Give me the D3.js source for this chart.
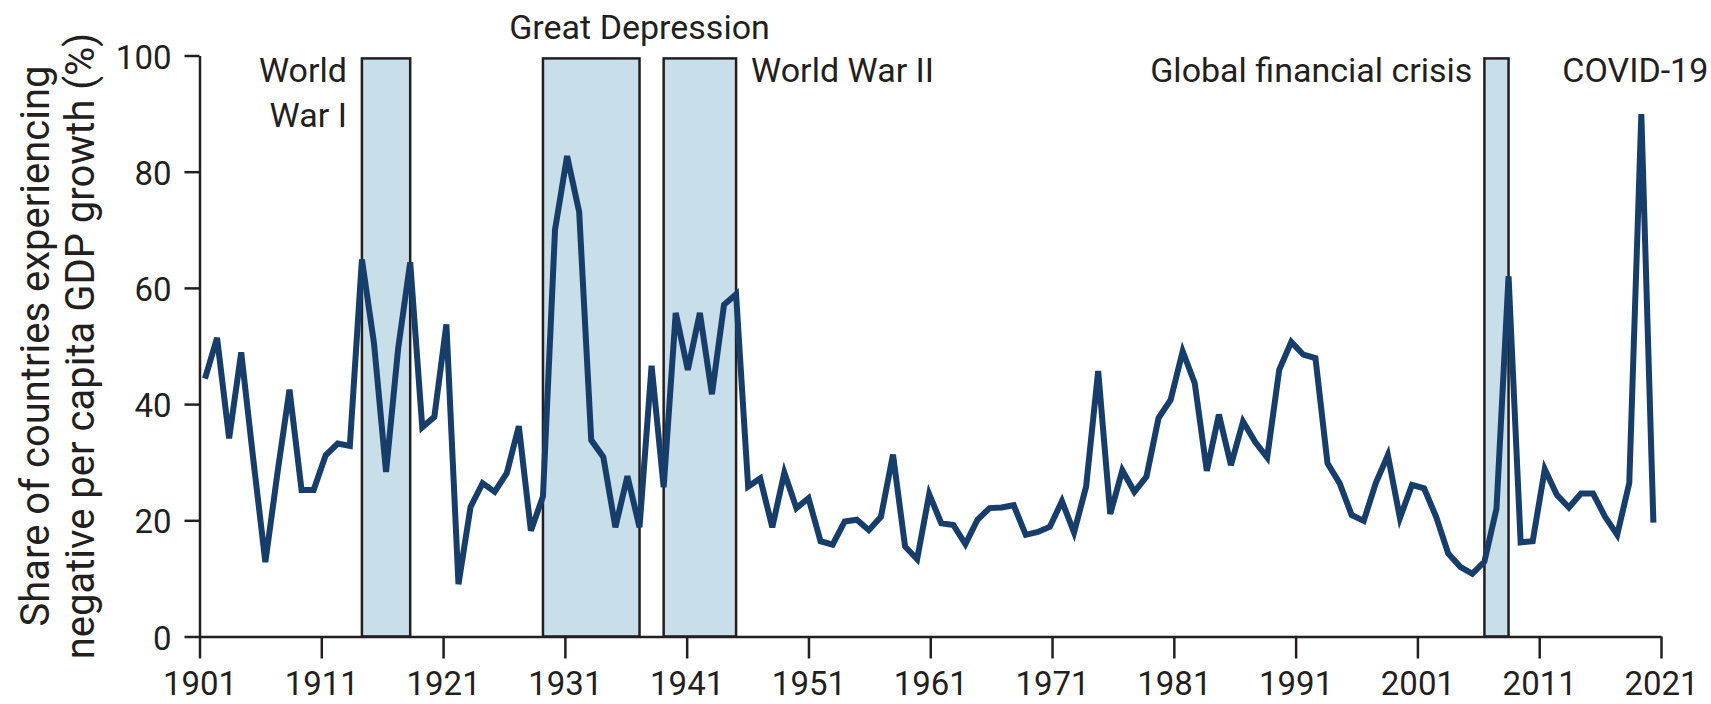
<!DOCTYPE html>
<html>
<head>
<meta charset="utf-8">
<script src="https://cdnjs.cloudflare.com/ajax/libs/d3/7.8.5/d3.min.js"></script>
<style>
	body { margin: 0; background: #fff; }
	text { font-family: Roboto, "Liberation Sans", sans-serif; fill: #231f20; }
</style>
</head>
<body>
<div id="chart"></div>
<script>
// share of countries with negative per capita GDP growth (%), one value per year from 1901
var firstYear = 1901;
var shareNegative = [
	44.4, 51.4, 34.1, 48.9, 30.5, 12.8, 28.1, 42.5, 25.2, 25.2,   // 1901-1910
	31.2, 33.2, 32.8, 64.9, 50.5, 28.3, 49.5, 64.4, 36.0, 37.8,   // 1911-1920
	53.7, 9.0, 22.3, 26.4, 24.9, 28.1, 36.2, 18.2, 24.1, 70.0,    // 1921-1930
	82.7, 73.1, 33.8, 30.9, 18.8, 27.6, 18.8, 46.6, 25.7, 55.7,   // 1931-1940
	45.9, 55.7, 41.7, 57.1, 58.9, 25.8, 27.2, 18.8, 28.2, 22.1,   // 1941-1950
	23.8, 16.4, 15.8, 19.8, 20.1, 18.3, 20.6, 31.3, 15.5, 13.3,   // 1951-1960
	24.5, 19.5, 19.2, 15.9, 20.1, 22.1, 22.2, 22.6, 17.5, 18.0,   // 1961-1970
	18.9, 23.3, 17.9, 25.8, 45.7, 21.1, 28.6, 24.9, 27.5, 37.6,   // 1971-1980
	40.7, 49.1, 43.6, 28.5, 38.2, 29.5, 37.0, 33.5, 30.8, 45.9,   // 1981-1990
	50.7, 48.5, 47.9, 29.8, 26.4, 20.9, 19.9, 26.4, 31.2, 20.4,   // 1991-2000
	26.1, 25.5, 20.6, 14.3, 12.0, 10.8, 12.9, 22.0, 62.0, 16.2,   // 2001-2010
	16.4, 28.8, 24.4, 22.2, 24.6, 24.6, 20.6, 17.5, 26.4, 89.9,   // 2011-2020
	19.6                                                          // 2021
];

let tickYears = [1901, 1911, 1921, 1931, 1941, 1951, 1961, 1971, 1981, 1991, 2001, 2011, 2021];
let yTicks = [0, 20, 40, 60, 80, 100];

// shaded crisis periods
let shadeStart = [1914, 1929, 1939, 2007];
let shadeEnd = [1918, 1937, 1945, 2009];
let shadeTop = 99.5;

let eventLabels = ["World War I", "Great Depression", "World War II", "Global financial crisis", "COVID-19"];

var width = 1711,
	height = 704;
var margin = {top: 55.5, right: 50, bottom: 67.5, left: 199.5};
var w = width - margin.left - margin.right,
	h = height - margin.top - margin.bottom;

var svg = d3.select("#chart").append("svg")
	.attr("width", width)
	.attr("height", height);
var g = svg.append("g")
	.attr("transform", "translate(" + margin.left + "," + margin.top + ")");

var x = d3.scaleLinear()
	.domain([1901, 2021])
	.range([0, w]);
// the series is drawn a little inside the tick span, as in the original
var xLine = d3.scaleLinear()
	.domain([1901, 2021])
	.range([5.5, w - 7.6]);
var y = d3.scaleLinear()
	.domain([0, 100])
	.range([h, 0]);

var ink = "#231f20";

g.selectAll("rect.shade")
	.data(shadeStart)
	.enter()
	.append("rect")
	.attr("class", "shade")
	.attr("x", function(d) { return xLine(d); })
	.attr("width", function(d, i) { return xLine(shadeEnd[i]) - xLine(d); })
	.attr("y", y(shadeTop))
	.attr("height", y(0) - y(shadeTop))
	.attr("fill", "#c8dee8")
	.attr("stroke", ink)
	.attr("stroke-width", 2.5);

var line = d3.line()
	.x(function(d, i) { return xLine(firstYear + i); })
	.y(function(d) { return y(d); });

g.append("path")
	.datum(shareNegative)
	.attr("d", line)
	.attr("fill", "none")
	.attr("stroke", "#173e6b")
	.attr("stroke-width", 6)
	.attr("stroke-linejoin", "miter");

var xAxis = g.append("g")
	.attr("transform", "translate(0," + h + ")")
	.call(d3.axisBottom(x)
		.tickValues(tickYears)
		.tickFormat(d3.format("d"))
		.tickSize(22)
		.tickSizeOuter(0)
		.tickPadding(13));

var yAxis = g.append("g")
	.call(d3.axisLeft(y)
		.tickValues(yTicks)
		.tickSize(15)
		.tickSizeOuter(0)
		.tickPadding(13));

[xAxis, yAxis].forEach(function(a) {
	a.selectAll("path, line").attr("stroke", ink).attr("stroke-width", 2.5);
	a.selectAll("text").style("font-size", "33px").attr("fill", ink);
});
yAxis.selectAll("text").attr("dy", "0.38em");

// y title, two lines
var titleLines = ["Share of countries experiencing", "negative per capita GDP growth (%)"];
svg.selectAll("text.ytitle")
	.data(titleLines)
	.enter()
	.append("text")
	.attr("class", "ytitle")
	.attr("transform", function(d, i) { return "translate(" + (49 + i * 45) + "," + (margin.top + h / 2) + ") rotate(-90)"; })
	.attr("text-anchor", "middle")
	.style("font-size", "40px")
	.text(function(d) { return d; });

// event annotations
var ann = g.append("g").style("font-size", "34px");
var row1 = 26.5, row0 = -17;
ann.append("text")
	.attr("x", xLine(shadeStart[0]) - 15)
	.attr("y", row1)
	.attr("text-anchor", "end")
	.text("World");
ann.append("text")
	.attr("x", xLine(shadeStart[0]) - 15)
	.attr("y", row1 + 45)
	.attr("text-anchor", "end")
	.text("War I");
ann.append("text")
	.attr("x", (xLine(shadeStart[1]) + xLine(shadeEnd[2])) / 2)
	.attr("y", row0)
	.attr("text-anchor", "middle")
	.text(eventLabels[1]);
ann.append("text")
	.attr("x", xLine(shadeEnd[2]) + 15)
	.attr("y", row1)
	.text(eventLabels[2]);
ann.append("text")
	.attr("x", xLine(shadeStart[3]) - 12)
	.attr("y", row1)
	.attr("text-anchor", "end")
	.text(eventLabels[3]);
ann.append("text")
	.attr("x", xLine(2020) - 6)
	.attr("y", row1)
	.attr("text-anchor", "middle")
	.text(eventLabels[4]);
</script>
</body>
</html>
